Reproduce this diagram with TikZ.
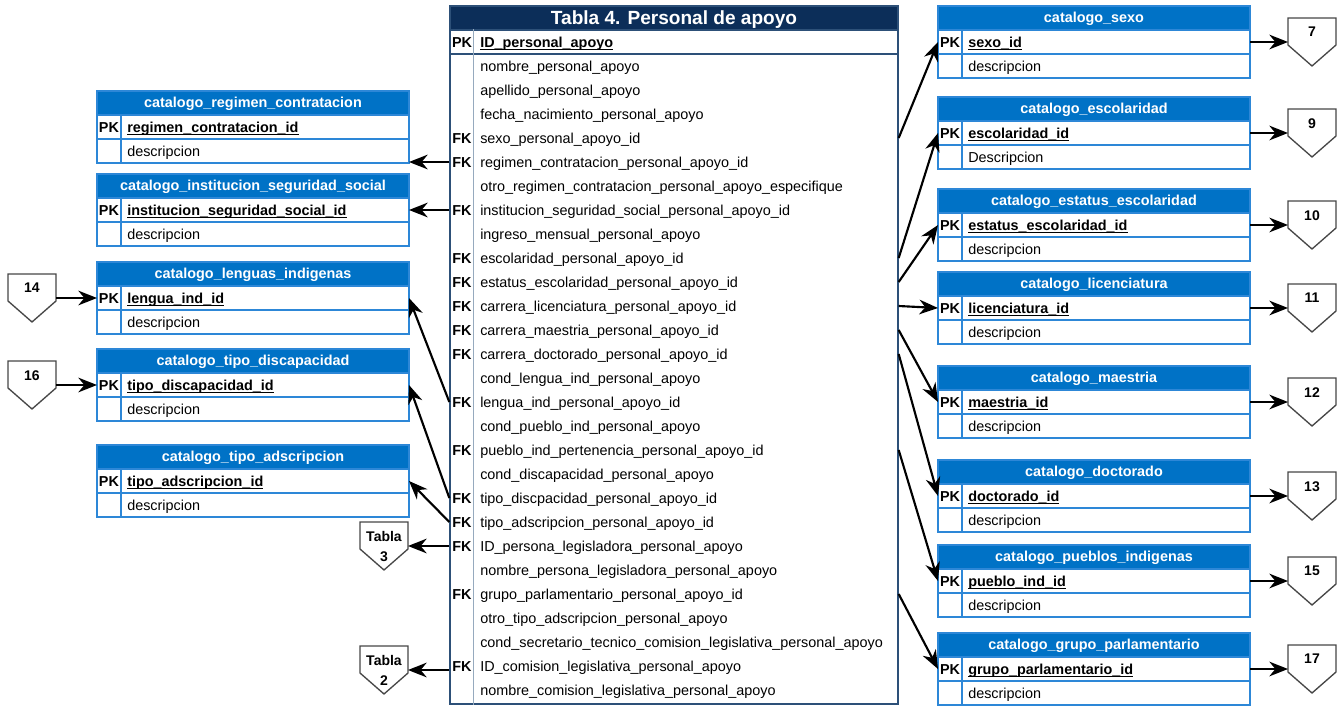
\documentclass[tikz,border=0pt]{standalone}
\usepackage{fontspec}
\setmainfont{Liberation Sans}
\usepackage{tikz}
\usetikzlibrary{calc,arrows.meta}
\definecolor{tabnavy}{RGB}{12, 46, 89}
\definecolor{tabline}{RGB}{45, 80, 120}
\definecolor{tabdivc}{RGB}{150, 170, 190}
\definecolor{catblue}{RGB}{0, 114, 198}
\definecolor{catedge}{RGB}{45, 135, 215}
\definecolor{pentgray}{RGB}{70, 70, 70}

% subrayado a profundidad fija
\newcommand{\llave}[1]{\setbox0\hbox{#1}\rlap{\rule[-2.2pt]{\wd0}{0.6pt}}\box0}

% tabla de catalogo: nombre, x izq, y sup, titulo, llave, descripcion
\newcommand{\catalogo}[6]{%
  \node[cathead, anchor=north west] (#1) at (#2,#3) {#4};
  \node[catrow, anchor=north] (#1pk) at (#1.south) {};
  \node[catrow, anchor=north] (#1ds) at (#1pk.south) {};
  \node[pkfk] (#1k) at ($(#1pk.west)+(12,0)$) {PK};
  \node[fldb] (#1f) at ($(#1pk.west)+(30,0)$) {\llave{#5}};
  \node[fld] (#1d) at ($(#1ds.west)+(30,0)$) {#6};
  \draw[catline] ($(#1pk.north west)+(24,0)$) -- ($(#1ds.south west)+(24,0)$);
}

% conector fuera de pagina: nombre, x centro, y sup, texto
\newcommand{\refpent}[4]{%
  \draw[pent] (#2-24,#3) -- (#2+24,#3) -- (#2+24,#3+27) -- (#2,#3+48)
              -- (#2-24,#3+27) -- cycle;
  \node[pnum] (#1) at (#2,#3+9) {#4};
  \coordinate (#1w) at (#2-24,#3+24);
  \coordinate (#1e) at (#2+24,#3+24);
}

\begin{document}
\begin{tikzpicture}[x=0.75pt, y=-0.75pt,
    tabhead/.style={rectangle, draw=tabline, fill=tabnavy, line width=1pt,
                    minimum width=336pt, minimum height=18pt, inner sep=0pt,
                    outer sep=0pt, text height=12pt, text depth=2pt,
                    text=white, font=\bfseries\fontsize{14.3}{16}\selectfont},
    tabpk/.style={rectangle, draw=tabline, fill=white, line width=1pt,
                  minimum width=336pt, minimum height=18pt, inner sep=0pt},
    tabbody/.style={rectangle, draw=tabline, line width=1pt,
                    minimum width=336pt, minimum height=487.5pt, inner sep=0pt},
    tabdiv/.style={draw=tabdivc, line width=0.8pt},
    cathead/.style={rectangle, draw=catedge, fill=catblue, line width=0.8pt,
                    minimum width=234pt, minimum height=18pt, inner sep=0pt,
                    outer sep=0pt, text height=9pt, text depth=2pt,
                    text=white, font=\bfseries\fontsize{10.8}{13}\selectfont},
    catrow/.style={rectangle, draw=catedge, fill=white, line width=0.8pt,
                   minimum width=234pt, minimum height=18pt, inner sep=0pt,
                   outer sep=0pt},
    catline/.style={draw=catedge, line width=0.8pt},
    pkfk/.style={inner sep=0pt, text height=10pt, text depth=2pt,
                 font=\bfseries\fontsize{10.8}{13}\selectfont},
    fld/.style={inner sep=0pt, anchor=west, text height=10pt, text depth=2pt,
                font=\fontsize{10.8}{13}\selectfont},
    fldb/.style={fld, font=\bfseries\fontsize{10.8}{13}\selectfont},
    pent/.style={draw=pentgray, line width=1pt, fill=white},
    pnum/.style={inner sep=0pt, anchor=north, align=center,
                 font=\bfseries\fontsize{10.5}{15}\selectfont},
    arr/.style={-{Stealth[length=14pt, width=11pt, inset=4.5pt]}, line width=1.6pt}]

    \useasboundingbox (0,0) rectangle (1342,707);

    % Tabla principal
    \node[tabhead] (head)  at (674,18)  {Tabla 4. Personal de apoyo};
    \node[tabpk]   (pkrow) at (674,42)  {};
    \node[tabbody] (body)  at (674,379) {};
    \draw[tabdiv] ($(pkrow.north west)+(24,0)$) -- ($(body.south west)+(24,0)$);
    \node[pkfk] (kid) at (462,42) {PK};
    \node[fldb] (idpa) at (480,42) {\llave{ID\_personal\_apoyo}};

    \node[fld] (nombre)   at (480,66)  {nombre\_personal\_apoyo};
    \node[fld] (apellido) at (480,90)  {apellido\_personal\_apoyo};
    \node[fld] (fecha)    at (480,114) {fecha\_nacimiento\_personal\_apoyo};
    \node[fld] (sexo)     at (480,138) {sexo\_personal\_apoyo\_id};
    \node[fld] (regimen)  at (480,162) {regimen\_contratacion\_personal\_apoyo\_id};
    \node[fld] (otroreg)  at (480,186) {otro\_regimen\_contratacion\_personal\_apoyo\_especifique};
    \node[fld] (inst)     at (480,210) {institucion\_seguridad\_social\_personal\_apoyo\_id};
    \node[fld] (ingreso)  at (480,234) {ingreso\_mensual\_personal\_apoyo};
    \node[fld] (escol)    at (480,258) {escolaridad\_personal\_apoyo\_id};
    \node[fld] (estatus)  at (480,282) {estatus\_escolaridad\_personal\_apoyo\_id};
    \node[fld] (lic)      at (480,306) {carrera\_licenciatura\_personal\_apoyo\_id};
    \node[fld] (maes)     at (480,330) {carrera\_maestria\_personal\_apoyo\_id};
    \node[fld] (doct)     at (480,354) {carrera\_doctorado\_personal\_apoyo\_id};
    \node[fld] (condleng) at (480,378) {cond\_lengua\_ind\_personal\_apoyo};
    \node[fld] (lengua)   at (480,402) {lengua\_ind\_personal\_apoyo\_id};
    \node[fld] (condpueb) at (480,426) {cond\_pueblo\_ind\_personal\_apoyo};
    \node[fld] (pueblo)   at (480,450) {pueblo\_ind\_pertenencia\_personal\_apoyo\_id};
    \node[fld] (conddisc) at (480,474) {cond\_discapacidad\_personal\_apoyo};
    \node[fld] (disc)     at (480,498) {tipo\_discpacidad\_personal\_apoyo\_id};
    \node[fld] (adscr)    at (480,522) {tipo\_adscripcion\_personal\_apoyo\_id};
    \node[fld] (legis)    at (480,546) {ID\_persona\_legisladora\_personal\_apoyo};
    \node[fld] (nomlegis) at (480,570) {nombre\_persona\_legisladora\_personal\_apoyo};
    \node[fld] (grupo)    at (480,594) {grupo\_parlamentario\_personal\_apoyo\_id};
    \node[fld] (otrotipo) at (480,618) {otro\_tipo\_adscripcion\_personal\_apoyo};
    \node[fld] (secret)   at (480,642) {cond\_secretario\_tecnico\_comision\_legislativa\_personal\_apoyo};
    \node[fld] (comision) at (480,666) {ID\_comision\_legislativa\_personal\_apoyo};
    \node[fld] (nomcom)   at (480,690) {nombre\_comision\_legislativa\_personal\_apoyo};

    \node[pkfk] (ksexo)     at (462,138) {FK};
    \node[pkfk] (kregimen)  at (462,162) {FK};
    \node[pkfk] (kinst)     at (462,210) {FK};
    \node[pkfk] (kescol)    at (462,258) {FK};
    \node[pkfk] (kestatus)  at (462,282) {FK};
    \node[pkfk] (klic)      at (462,306) {FK};
    \node[pkfk] (kmaes)     at (462,330) {FK};
    \node[pkfk] (kdoct)     at (462,354) {FK};
    \node[pkfk] (klengua)   at (462,402) {FK};
    \node[pkfk] (kpueblo)   at (462,450) {FK};
    \node[pkfk] (kdisc)     at (462,498) {FK};
    \node[pkfk] (kadscr)    at (462,522) {FK};
    \node[pkfk] (klegis)    at (462,546) {FK};
    \node[pkfk] (kgrupo)    at (462,594) {FK};
    \node[pkfk] (kcomision) at (462,666) {FK};

    % Catalogos izquierda
    \catalogo{creg}{97}{91}{catalogo\_regimen\_contratacion}{regimen\_contratacion\_id}{descripcion}
    \catalogo{cins}{97}{174}{catalogo\_institucion\_seguridad\_social}{institucion\_seguridad\_social\_id}{descripcion}
    \catalogo{clen}{97}{262}{catalogo\_lenguas\_indigenas}{lengua\_ind\_id}{descripcion}
    \catalogo{cdis}{97}{349}{catalogo\_tipo\_discapacidad}{tipo\_discapacidad\_id}{descripcion}
    \catalogo{cads}{97}{445}{catalogo\_tipo\_adscripcion}{tipo\_adscripcion\_id}{descripcion}

    % Catalogos derecha
    \catalogo{csex}{938}{6}{catalogo\_sexo}{sexo\_id}{descripcion}
    \catalogo{cesc}{938}{97}{catalogo\_escolaridad}{escolaridad\_id}{Descripcion}
    \catalogo{cest}{938}{189}{catalogo\_estatus\_escolaridad}{estatus\_escolaridad\_id}{descripcion}
    \catalogo{clic}{938}{272}{catalogo\_licenciatura}{licenciatura\_id}{descripcion}
    \catalogo{cmae}{938}{366}{catalogo\_maestria}{maestria\_id}{descripcion}
    \catalogo{cdoc}{938}{460}{catalogo\_doctorado}{doctorado\_id}{descripcion}
    \catalogo{cpue}{938}{545}{catalogo\_pueblos\_indigenas}{pueblo\_ind\_id}{descripcion}
    \catalogo{cgru}{938}{633}{catalogo\_grupo\_parlamentario}{grupo\_parlamentario\_id}{descripcion}

    % Referencias a otras tablas
    \refpent{p7}{1312}{18}{7}
    \refpent{p9}{1312}{109}{9}
    \refpent{p10}{1312}{201}{10}
    \refpent{p11}{1312}{284}{11}
    \refpent{p12}{1312}{378}{12}
    \refpent{p13}{1312}{472}{13}
    \refpent{p15}{1312}{557}{15}
    \refpent{p17}{1312}{645}{17}
    \refpent{p14}{32}{274}{14}
    \refpent{p16}{32}{361}{16}
    \refpent{p3}{384}{522}{Tabla\\3}
    \refpent{p2}{384}{646}{Tabla\\2}

    % Flechas izquierda
    \draw[arr] (body.west |- regimen) -- (cregds.east |- regimen);
    \draw[arr] (body.west |- inst)    -- (cinspk.east);
    \draw[arr] (body.west |- lengua)  -- (clenpk.east);
    \draw[arr] (body.west |- disc)    -- (cdispk.east);
    \draw[arr] (body.west |- adscr)   -- (cadspk.east);
    \draw[arr] (body.west |- legis)   -- (p3e);
    \draw[arr] (body.west |- p2e)     -- (p2e);

    % Flechas derecha
    \draw[arr] (body.east |- sexo)    -- (csexpk.west);
    \draw[arr] (body.east |- escol)   -- (cescpk.west);
    \draw[arr] (body.east |- estatus) -- (cestpk.west);
    \draw[arr] (body.east |- lic)     -- (clicpk.west);
    \draw[arr] (body.east |- maes)    -- (cmaepk.west);
    \draw[arr] (body.east |- doct)    -- (cdocpk.west);
    \draw[arr] (body.east |- pueblo)  -- (cpuepk.west);
    \draw[arr] (body.east |- grupo)   -- (cgrupk.west);

    % Flechas a referencias
    \draw[arr] (p14e) -- (clenpk.west);
    \draw[arr] (p16e) -- (cdispk.west);
    \draw[arr] (csexpk.east) -- (p7w);
    \draw[arr] (cescpk.east) -- (p9w);
    \draw[arr] (cestpk.east) -- (p10w);
    \draw[arr] (clicpk.east) -- (p11w);
    \draw[arr] (cmaepk.east) -- (p12w);
    \draw[arr] (cdocpk.east) -- (p13w);
    \draw[arr] (cpuepk.east) -- (p15w);
    \draw[arr] (cgrupk.east) -- (p17w);

\end{tikzpicture}
\end{document}
